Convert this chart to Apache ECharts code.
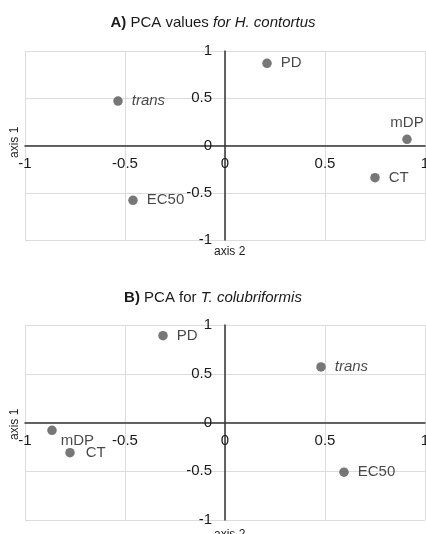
<!DOCTYPE html>
<html>
<head>
<meta charset="utf-8">
<script src="https://cdn.jsdelivr.net/npm/echarts@6/dist/echarts.min.js"></script>
<style>
  html, body { margin: 0; padding: 0; background: #fff; }
  #chart { width: 426px; height: 534px; }
</style>
</head>
<body>
<div id="chart"></div>
<script>
// panel A - H. contortus
const namesA = ['PD', 'trans', 'mDP', 'CT', 'EC50'];
const axis2A = [0.21, -0.535, 0.91, 0.75, -0.46];
const axis1A = [0.87, 0.47, 0.065, -0.34, -0.58];

// panel B - T. colubriformis
const namesB = ['PD', 'trans', 'mDP', 'CT', 'EC50'];
const axis2B = [-0.31, 0.48, -0.865, -0.775, 0.595];
const axis1B = [0.89, 0.57, -0.08, -0.31, -0.51];

const ticks = [-1, -0.5, 0, 0.5, 1];

const dotColor = '#555';
const txt = '#1a1a1a';
const font = 'Liberation Sans, Arial, sans-serif';

// grid boxes (plot areas)
const gridA = { left: 25, top: 51, width: 400, height: 189 };
const gridB = { left: 25, top: 325, width: 400, height: 195 };

// label tweaks per point
const labelFor = (name, panel) => {
    const lab = { show: true, position: 'right', distance: 9, color: txt, fontSize: 15, fontFamily: font, formatter: '{b}' };
    if (name === 'trans') lab.fontStyle = 'italic';
    if (name === 'mDP' && panel === 'A') { lab.position = 'top'; lab.distance = 4; }
    if (name === 'mDP' && panel === 'B') { lab.distance = 4; lab.offset = [0, 11]; }
    if (name === 'CT' && panel === 'B') { lab.distance = 11; }
    return lab;
};

const buildData = (names, xs, ys, panel) =>
    names.map((n, i) => ({ name: n, value: [xs[i], ys[i]], label: labelFor(n, panel) }));

// axes are shifted into the middle of the plot so they cross at 0
const xAxisBase = (gridIndex, g) => ({
    type: 'value', gridIndex, position: 'bottom', offset: -g.height / 2,
    min: ticks[0], max: ticks[ticks.length - 1], interval: 0.5,
    axisLine: { onZero: false, lineStyle: { color: '#333', width: 1.5 } },
    axisTick: { show: false },
    axisLabel: { color: txt, fontSize: 15, fontFamily: font, margin: 11, showMinLabel: true, showMaxLabel: true },
    splitLine: { show: true, lineStyle: { color: '#dcdcdc', width: 1 } }
});

const yAxisBase = (gridIndex, g) => ({
    type: 'value', gridIndex, position: 'left', offset: -g.width / 2,
    min: ticks[0], max: ticks[ticks.length - 1], interval: 0.5,
    axisLine: { onZero: false, lineStyle: { color: '#333', width: 1.5 } },
    axisTick: { show: false },
    axisLabel: { color: txt, fontSize: 15, fontFamily: font, margin: 13, showMinLabel: true, showMaxLabel: true },
    splitLine: { show: true, lineStyle: { color: '#dcdcdc', width: 1 } }
});

const titleRich = {
    b: { fontWeight: 'bold', fontSize: 15, color: txt, fontFamily: font },
    n: { fontWeight: 'normal', fontSize: 15, color: txt, fontFamily: font },
    i: { fontWeight: 'normal', fontStyle: 'italic', fontSize: 15, color: txt, fontFamily: font }
};

const nameStyle = { fontSize: 12, fontWeight: 'normal', color: txt, fontFamily: font };

const chart = echarts.init(document.getElementById('chart'));

const option = {
    animation: false,
    title: [
        { text: '{b|A)}{n| PCA values }{i|for H. contortus}', left: 'center', top: 10, textStyle: { rich: titleRich } },
        { text: '{b|B)}{n| PCA for }{i|T. colubriformis}', left: 'center', top: 285, textStyle: { rich: titleRich } },
        { text: 'axis 2', left: 209, top: 241, textStyle: nameStyle },
        { text: 'axis 2', left: 209, top: 524, textStyle: nameStyle }
    ],
    graphic: [
        { type: 'text', x: 9, y: 158, rotation: Math.PI / 2, style: { text: 'axis 1', fontSize: 12, fill: txt, fontFamily: font } },
        { type: 'text', x: 9, y: 440, rotation: Math.PI / 2, style: { text: 'axis 1', fontSize: 12, fill: txt, fontFamily: font } }
    ],
    grid: [
        Object.assign({ containLabel: false, outerBoundsMode: 'none' }, gridA),
        Object.assign({ containLabel: false, outerBoundsMode: 'none' }, gridB)
    ],
    xAxis: [xAxisBase(0, gridA), xAxisBase(1, gridB)],
    yAxis: [yAxisBase(0, gridA), yAxisBase(1, gridB)],
    series: [
        {
            type: 'scatter', xAxisIndex: 0, yAxisIndex: 0, symbolSize: 9.5,
            itemStyle: { color: dotColor },
            data: buildData(namesA, axis2A, axis1A, 'A')
        },
        {
            type: 'scatter', xAxisIndex: 1, yAxisIndex: 1, symbolSize: 9.5,
            itemStyle: { color: dotColor },
            data: buildData(namesB, axis2B, axis1B, 'B')
        }
    ]
};

chart.setOption(option);
</script>
</body>
</html>
